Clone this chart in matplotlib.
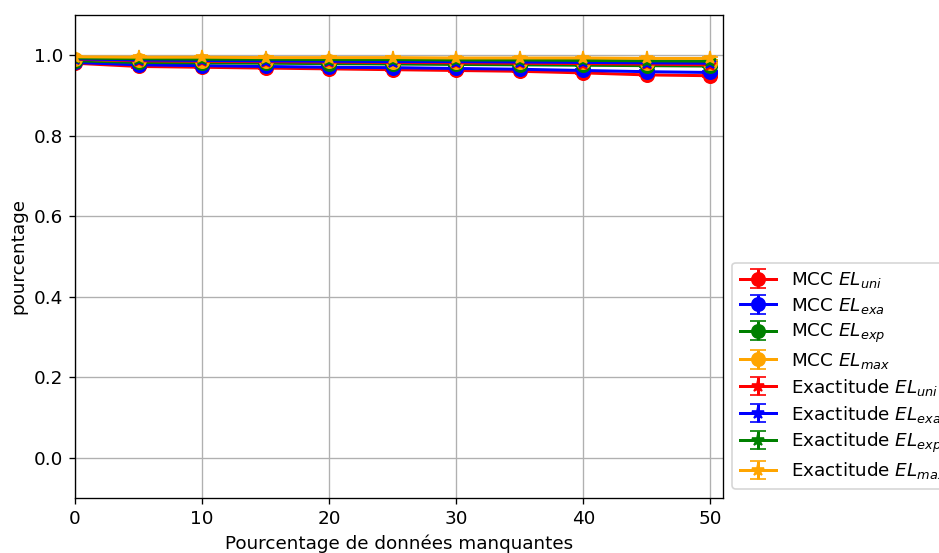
import matplotlib
matplotlib.use('Agg')
import matplotlib.pyplot as plt

missing = [0, 5, 10, 15, 20, 25, 30, 35, 40, 45, 50]

mcc_uni = [0.980, 0.972, 0.970, 0.968, 0.966, 0.964, 0.962, 0.960, 0.956, 0.951, 0.949]
mcc_exa = [0.982, 0.976, 0.974, 0.972, 0.970, 0.969, 0.967, 0.965, 0.962, 0.959, 0.957]
mcc_exp = [0.986, 0.982, 0.981, 0.980, 0.979, 0.978, 0.977, 0.976, 0.975, 0.974, 0.973]
mcc_max = [0.990, 0.987, 0.986, 0.985, 0.985, 0.984, 0.983, 0.983, 0.982, 0.981, 0.980]
acc_uni = [0.990, 0.986, 0.985, 0.984, 0.983, 0.982, 0.981, 0.980, 0.979, 0.978, 0.976]
acc_exa = [0.991, 0.988, 0.987, 0.986, 0.985, 0.984, 0.984, 0.983, 0.982, 0.981, 0.980]
acc_exp = [0.993, 0.991, 0.990, 0.990, 0.989, 0.989, 0.988, 0.988, 0.987, 0.986, 0.985]
acc_max = [0.996, 0.995, 0.995, 0.994, 0.994, 0.994, 0.993, 0.993, 0.993, 0.992, 0.992]
err = 0.003

plt.rcParams['font.size'] = 11

fig, ax = plt.subplots(figsize=(939 / 120, 553 / 120), dpi=120)

series = [
    (mcc_uni, 'red', 'o', r'MCC $EL_{uni}$'),
    (mcc_exa, 'blue', 'o', r'MCC $EL_{exa}$'),
    (mcc_exp, 'green', 'o', r'MCC $EL_{exp}$'),
    (mcc_max, 'orange', 'o', r'MCC $EL_{max}$'),
    (acc_uni, 'red', '*', r'Exactitude $EL_{uni}$'),
    (acc_exa, 'blue', '*', r'Exactitude $EL_{exa}$'),
    (acc_exp, 'green', '*', r'Exactitude $EL_{exp}$'),
    (acc_max, 'orange', '*', r'Exactitude $EL_{max}$'),
]

for vals, col, mk, lab in series:
    ax.errorbar(missing, vals, yerr=err, color=col, marker=mk, markersize=8,
                capsize=5, linewidth=1.8, label=lab)

ax.set_xlim(0, 51)
ax.set_ylim(-0.1, 1.1)
ax.set_xlabel('Pourcentage de données manquantes')
ax.set_ylabel('pourcentage')
ax.grid(True)
# legend sits outside the axes and runs past the right edge, as in the original
ax.legend(loc='lower left', bbox_to_anchor=(1, 0), labelspacing=0.32)

fig.subplots_adjust(left=0.08, right=0.77, top=0.973, bottom=0.0995)
fig.savefig('out.png', dpi=120)
